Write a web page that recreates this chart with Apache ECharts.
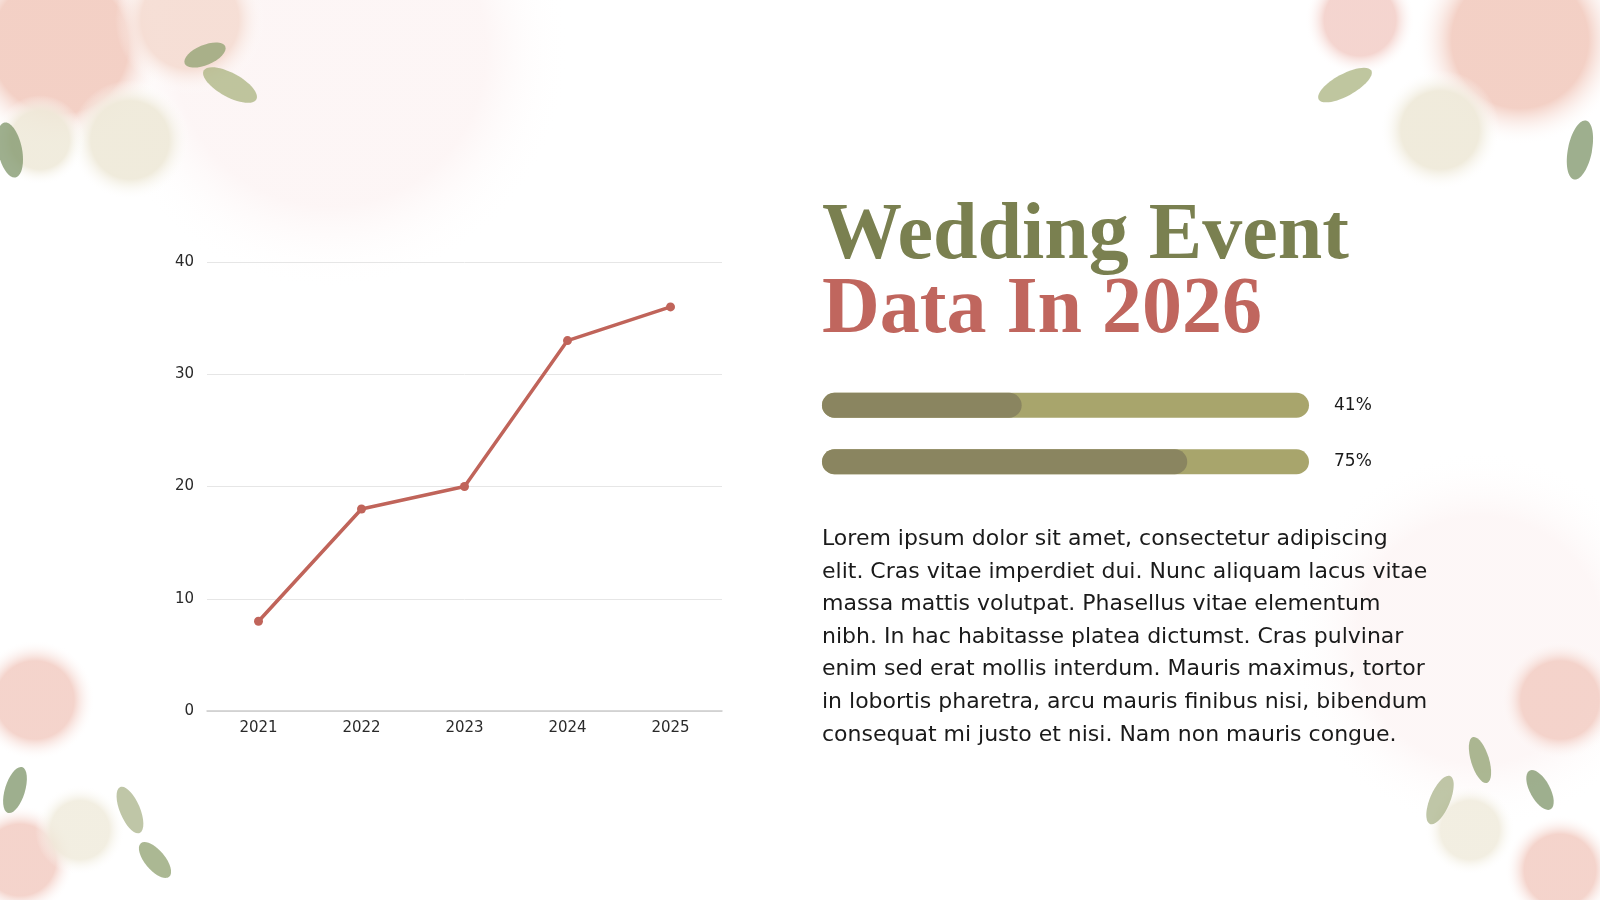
<!DOCTYPE html>
<html>
<head>
<meta charset="utf-8">
<title>Wedding Event Data In 2026</title>
<script src="https://cdn.jsdelivr.net/npm/echarts@6/dist/echarts.min.js"></script>
<style>
  html, body { margin: 0; padding: 0; background: #ffffff; }
  #main { width: 1600px; height: 900px; }
</style>
</head>
<body>
<div id="main"></div>
<script>
// line chart data
var years = ['2021', '2022', '2023', '2024', '2025'];
var events = [8, 18, 20, 33, 36];
var yTicks = [0, 10, 20, 30, 40];

// progress bars
var barNames = ['A', 'B'];
var barValues = [41, 75];

// texts
var titleLine1 = 'Wedding Event';
var titleLine2 = 'Data In 2026';
var bodyLines = [
    'Lorem ipsum dolor sit amet, consectetur adipiscing',
    'elit. Cras vitae imperdiet dui. Nunc aliquam lacus vitae',
    'massa mattis volutpat. Phasellus vitae elementum',
    'nibh. In hac habitasse platea dictumst. Cras pulvinar',
    'enim sed erat mollis interdum. Mauris maximus, tortor',
    'in lobortis pharetra, arcu mauris finibus nisi, bibendum',
    'consequat mi justo et nisi. Nam non mauris congue.'
];

var sansFont = '"DejaVu Sans", "Noto Sans", sans-serif';
var chart = echarts.init(document.getElementById('main'));

/** soft floral-ish blobs in the corners */
function blob(x, y, r, color, op) {
    return {
        type: 'circle', silent: true, z: -10,
        shape: {cx: x, cy: y, r: r},
        style: {
            fill: {
                type: 'radial', x: 0.5, y: 0.5, r: 0.5,
                colorStops: [
                    {offset: 0, color: color},
                    {offset: 0.65, color: color},
                    {offset: 1, color: 'rgba(255,255,255,0)'}
                ]
            },
            opacity: op
        }
    };
}
function leaf(x, y, rx, ry, rot, color) {
    return {
        type: 'ellipse', silent: true, z: -9,
        x: x, y: y, rotation: rot,
        shape: {cx: 0, cy: 0, rx: rx, ry: ry},
        style: {fill: color, opacity: 0.75}
    };
}

var deco = [
    // top left
    blob(330, 50, 240, '#fbeeee', 0.55),
    blob(60, 45, 105, '#f2cbbf', 0.9),
    blob(190, 20, 75, '#f5dcd2', 0.9),
    blob(130, 140, 60, '#efeada', 0.95),
    blob(40, 140, 45, '#efeada', 0.9),
    leaf(230, 85, 30, 12, -0.5, '#a9b37f'),
    leaf(205, 55, 22, 10, 0.4, '#8fa06f'),
    leaf(10, 150, 12, 28, 0.2, '#7d9468'),
    // top right
    blob(1520, 40, 105, '#f2cbbf', 0.9),
    blob(1360, 20, 55, '#f3d0ca', 0.9),
    blob(1440, 130, 60, '#efeada', 0.95),
    leaf(1345, 85, 30, 11, 0.5, '#a9b37f'),
    leaf(1580, 150, 12, 30, -0.2, '#7d9468'),
    // bottom left
    blob(35, 700, 60, '#f3cfc6', 0.9),
    blob(20, 860, 55, '#f3cfc6', 0.9),
    blob(80, 830, 45, '#efeada', 0.8),
    leaf(130, 810, 10, 25, 0.4, '#a9b38a'),
    leaf(155, 860, 10, 22, 0.7, '#8fa06f'),
    leaf(15, 790, 10, 24, -0.3, '#7d9468'),
    // bottom right
    blob(1480, 640, 190, '#fbeeee', 0.5),
    blob(1560, 700, 60, '#f3cfc6', 0.9),
    blob(1560, 870, 55, '#f3cfc6', 0.9),
    blob(1470, 830, 45, '#efeada', 0.8),
    leaf(1440, 800, 10, 26, -0.4, '#a9b38a'),
    leaf(1480, 760, 9, 24, 0.3, '#8fa06f'),
    leaf(1540, 790, 10, 22, 0.5, '#7d9468')
];

var texts = [
    {
        type: 'text', left: 822, top: 197,
        style: {
            text: titleLine1, fill: '#7a8050',
            font: 'bold 80px "Liberation Serif", "DejaVu Serif", serif'
        }
    },
    {
        type: 'text', left: 822, top: 271,
        style: {
            text: titleLine2, fill: '#c0665e',
            font: 'bold 80px "Liberation Serif", "DejaVu Serif", serif'
        }
    },
    {
        type: 'text', left: 822, top: 523,
        style: {
            text: bodyLines.join('\n'), fill: '#1a1a1a',
            font: '22px ' + sansFont, lineHeight: 32.6
        }
    }
];

chart.setOption({
    animation: false,
    backgroundColor: '#ffffff',
    graphic: deco.concat(texts),
    grid: [
        {left: 207, right: 878, top: 262, bottom: 189},
        {left: 822, width: 487, top: 377, height: 113}
    ],
    xAxis: [
        {
            gridIndex: 0, type: 'category', data: years,
            axisTick: {show: false},
            axisLine: {lineStyle: {color: '#cccccc', width: 1.5}},
            axisLabel: {color: '#2a2a2a', fontSize: 15, fontFamily: sansFont, margin: 10}
        },
        {
            gridIndex: 1, type: 'value', min: 0, max: 100, show: false
        }
    ],
    yAxis: [
        {
            gridIndex: 0, type: 'value', min: yTicks[0], max: yTicks[yTicks.length - 1], interval: 10,
            axisLine: {show: false}, axisTick: {show: false},
            axisLabel: {color: '#2a2a2a', fontSize: 15, fontFamily: sansFont, margin: 13},
            splitLine: {lineStyle: {color: '#e6e6e6', width: 1}}
        },
        {
            gridIndex: 1, type: 'category', data: barNames, inverse: true, show: false
        }
    ],
    series: [
        {
            type: 'line', xAxisIndex: 0, yAxisIndex: 0, data: events,
            symbol: 'circle', symbolSize: 9,
            lineStyle: {color: '#c0645a', width: 3.5},
            itemStyle: {color: '#c0645a'}
        },
        {
            type: 'bar', xAxisIndex: 1, yAxisIndex: 1,
            data: barValues.map(function () { return 100; }),
            barWidth: 25, barGap: '-100%', silent: true,
            itemStyle: {color: '#a8a56c', borderRadius: 12.5},
            label: {
                show: true, position: 'right', distance: 25,
                formatter: function (p) { return barValues[p.dataIndex] + '%'; },
                color: '#1a1a1a', fontSize: 17, fontFamily: sansFont
            }
        },
        {
            type: 'bar', xAxisIndex: 1, yAxisIndex: 1, data: barValues,
            barWidth: 25, barGap: '-100%',
            itemStyle: {color: '#8a8560', borderRadius: 12.5}
        }
    ]
});
</script>
</body>
</html>
